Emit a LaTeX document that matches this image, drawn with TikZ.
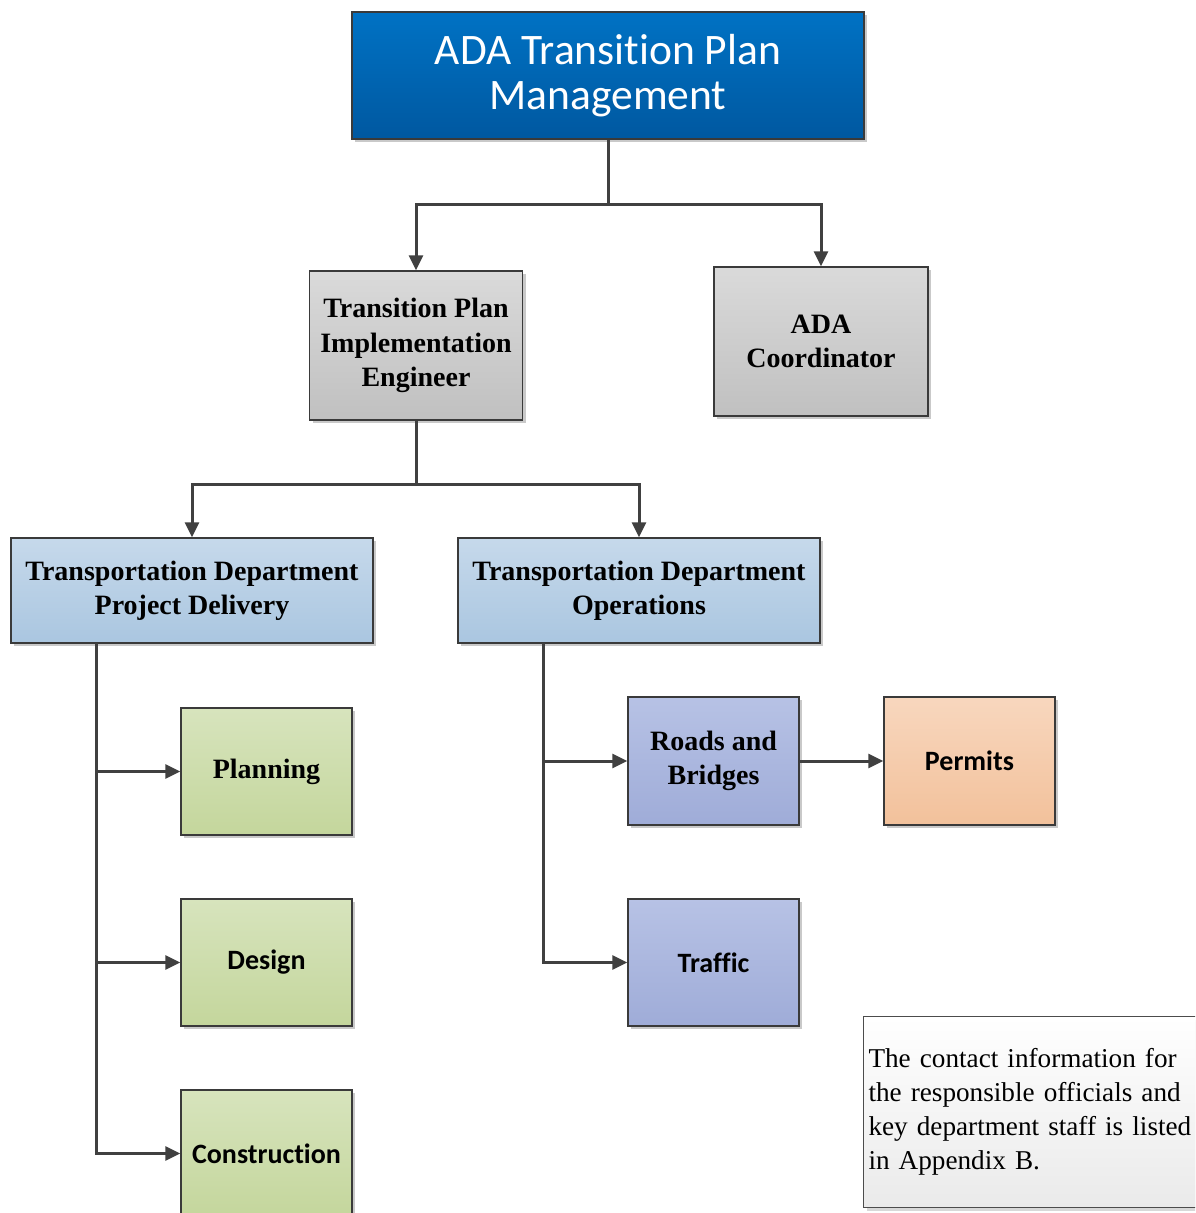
\documentclass[tikz,border=0pt]{standalone}
\usepackage{fontspec}
\setmainfont{Liberation Serif}
\newfontfamily\calfont[Ligatures={NoCommon}]{Carlito}
\usetikzlibrary{arrows.meta,shadows}
\definecolor{lc}{HTML}{404040}
\definecolor{bdr}{HTML}{3A3A3A}
\begin{document}
\begin{tikzpicture}[x=1pt,y=-1pt,
  box/.style={draw=bdr, line width=1.5pt, inner sep=0pt, align=center, shading=axis,
     drop shadow={shadow xshift=3pt, shadow yshift=-3pt, fill=black!35, opacity=0.6}},
  topbox/.style={box, top color={rgb,255:red,0;green,114;blue,196}, bottom color={rgb,255:red,0;green,88;blue,160},
     text=white, font=\calfont\fontsize{43.5}{45}\selectfont, line width=2pt},
  graybox/.style={box, top color={rgb,255:red,218;green,218;blue,218}, bottom color={rgb,255:red,192;green,192;blue,192},
     font=\bfseries\fontsize{28}{34.5}\selectfont},
  lbbox/.style={box, top color={rgb,255:red,198;green,217;blue,235}, bottom color={rgb,255:red,170;green,198;blue,224},
     font=\bfseries\fontsize{28}{34}\selectfont},
  grbox/.style={box, top color={rgb,255:red,215;green,228;blue,189}, bottom color={rgb,255:red,196;green,214;blue,156}},
  pubox/.style={box, top color={rgb,255:red,183;green,194;blue,229}, bottom color={rgb,255:red,159;green,172;blue,216}},
  pebox/.style={box, top color={rgb,255:red,248;green,215;blue,190}, bottom color={rgb,255:red,242;green,193;blue,155}},
  serb/.style={font=\bfseries\fontsize{28}{34.5}\selectfont},
  calb/.style={font=\calfont\bfseries\fontsize{28}{34}\selectfont},
  notebox/.style={draw=black!70, line width=1pt, shading=axis, top color=white, bottom color={rgb,255:red,234;green,234;blue,234},
     inner xsep=5pt, inner ysep=0pt, align=left, font=\fontsize{27.2}{34}\selectfont,
     drop shadow={shadow xshift=3pt, shadow yshift=-3pt, fill=black!30, opacity=0.5}},
  conn/.style={draw=lc, line width=3pt},
  arr/.style={conn, -{Triangle[length=15pt,width=14pt]}}
]
\clip (0,0) rectangle (1195,1213);
\fill[white] (0,0) rectangle (1195,1213);

\node[topbox, minimum width=512pt, minimum height=127pt] (top) at (608,75.5) {ADA Transition Plan\\Management};
\node[graybox, minimum width=213pt, minimum height=149pt] (tpie) at (416,345.5) {Transition Plan\\Implementation\\Engineer};
\node[graybox, minimum width=214pt, minimum height=149pt] (ada) at (821,341.5) {ADA\\Coordinator};
\node[lbbox, minimum width=362pt, minimum height=105pt] (tdpd) at (192,590.5) {Transportation Department\\Project Delivery};
\node[lbbox, minimum width=362pt, minimum height=105pt] (tdo) at (639,590.5) {Transportation Department\\Operations};
\node[grbox, serb, minimum width=171pt, minimum height=127pt] (plan) at (266.5,771.5) {Planning};
\node[grbox, calb, minimum width=171pt, minimum height=127pt] (design) at (266.5,962.5) {Design};
\node[grbox, calb, minimum width=171pt, minimum height=127pt] (cons) at (266.5,1153.5) {Construction};
\node[pubox, serb, minimum width=171pt, minimum height=128pt] (rb) at (713.5,761) {Roads and\\Bridges};
\node[pebox, calb, minimum width=171pt, minimum height=128pt] (perm) at (969.5,761) {Permits};
\node[pubox, calb, minimum width=171pt, minimum height=127pt] (traf) at (713.5,962.5) {Traffic};
\node[notebox, text width=360pt, minimum height=191pt, anchor=north west] (note) at (863,1016)
  {The contact information for\\the responsible officials and\\key department staff is listed\\in Appendix B.};

\coordinate (j1) at (608,204);
\coordinate (j2) at (416,484);
\coordinate (b1) at (96,643);
\coordinate (b2) at (543,643);

\draw[conn] (top.south) -- (j1);
\draw[arr] (j1) -| (tpie.north);
\draw[arr] (j1) -| (ada.north);
\draw[conn] (tpie.south) -- (j2);
\draw[arr] (j2) -| (tdpd.north);
\draw[arr] (j2) -| (tdo.north);
\draw[arr] (b1) |- (plan.west);
\draw[arr] (b1) |- (design.west);
\draw[arr] (b1) |- (cons.west);
\draw[arr] (b2) |- (rb.west);
\draw[arr] (b2) |- (traf.west);
\draw[arr] (rb.east) -- (perm.west);
\end{tikzpicture}
\end{document}
